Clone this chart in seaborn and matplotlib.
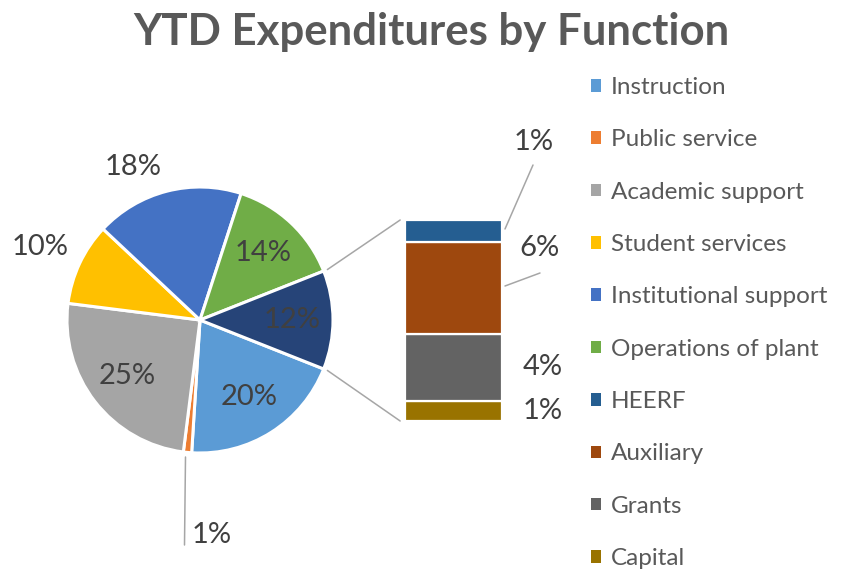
import matplotlib
matplotlib.use("Agg")
import numpy as np
import matplotlib.pyplot as plt
from matplotlib.patches import Patch, ConnectionPatch
import seaborn as sns

# ---- data -------------------------------------------------------------
pie_labels = ["Instruction", "Public service", "Academic support",
              "Student services", "Institutional support", "Operations of plant"]
pie_values = [20, 1, 25, 10, 18, 14]
pie_colors = ["#5B9BD5", "#ED7D31", "#A5A5A5", "#FFC000", "#4472C4", "#70AD47"]
other_color = "#264478"

bar_labels = ["HEERF", "Auxiliary", "Grants", "Capital"]
bar_values = [1.3, 5.5, 4.0, 1.2]
bar_colors = ["#255E91", "#9E480E", "#636363", "#997300"]

title = "YTD Expenditures by Function"

# ---- style ------------------------------------------------------------
sns.set_theme(style="white")
plt.rcParams["font.family"] = ["Lato", "DejaVu Sans"]
LABEL_COLOR = "#404040"
LEGEND_COLOR = "#595959"
LINE_COLOR = "#A6A6A6"

W, H = 845, 574
fig = plt.figure(figsize=(W / 100, H / 100), dpi=100)


def frect(x0, y0, w, h):
    """Axes rectangle from pixel box (top-left origin)."""
    return [x0 / W, 1 - (y0 + h) / H, w / W, h / H]


# overlay in pixel coordinates for labels and leader lines
ov = fig.add_axes([0, 0, 1, 1], zorder=5)
ov.set_xlim(0, W)
ov.set_ylim(H, 0)
ov.axis("off")
ov.patch.set_alpha(0)

# ---- pie --------------------------------------------------------------
other_value = sum(bar_values)
values = pie_values + [other_value]
colors = pie_colors + [other_color]
total = sum(values)
start = -360 * (other_value / total) / 2

cx, cy, r = 200, 320, 133
ax_pie = fig.add_axes(frect(cx - r, cy - r, 2 * r, 2 * r))
wedges, _ = ax_pie.pie(values, colors=colors, startangle=start,
                       counterclock=False, radius=1,
                       wedgeprops=dict(edgecolor="white", linewidth=2.2))
ax_pie.set_xlim(-1, 1)
ax_pie.set_ylim(-1, 1)
ax_pie.set_aspect("equal")

fs_label = 21
# labels placed inside the wedge
inside = {0: 0.69, 2: 0.69, 5: 0.69, 6: 0.69}
for i, w in enumerate(wedges):
    txt = f"{values[i] / total * 100:.0f}%"
    if i in inside:
        ang = np.deg2rad((w.theta1 + w.theta2) / 2)
        d = inside[i]
        ax_pie.text(d * np.cos(ang), d * np.sin(ang), txt, ha="center",
                    va="center", fontsize=fs_label, color=LABEL_COLOR)

# labels placed outside the pie
outside = {1: (212, 535), 3: (40, 247), 4: (133, 167)}
for i, (x, y) in outside.items():
    ov.text(x, y, f"{values[i] / total * 100:.0f}%", ha="center", va="center",
            fontsize=fs_label, color=LABEL_COLOR)
ov.plot([185.5, 184.5], [457, 545], color=LINE_COLOR, lw=1.1)

# ---- bar of the "other" slice -----------------------------------------
bx, by, bw, bh = 405, 220, 97, 201
ax_bar = fig.add_axes(frect(bx, by, bw, bh))
bottom = 0.0
for lab, val, col in zip(bar_labels[::-1], bar_values[::-1], bar_colors[::-1]):
    ax_bar.bar(0, val, bottom=bottom, width=1.0, color=col,
               edgecolor="white", linewidth=1.6)
    bottom += val
ax_bar.set_xlim(-0.5, 0.5)
ax_bar.set_ylim(0, other_value)
ax_bar.axis("off")

# connector lines between slice edges and bar corners
for ang, ycorner in [(np.deg2rad(-start), other_value), (np.deg2rad(start), 0)]:
    con = ConnectionPatch(xyA=(1.03 * np.cos(ang), 1.03 * np.sin(ang)),
                          coordsA=ax_pie.transData,
                          xyB=(-0.55, ycorner), coordsB=ax_bar.transData,
                          color=LINE_COLOR, lw=1.1)
    fig.add_artist(con)

bar_label_pos = [(534, 142), (540, 248), (543, 367), (543, 411)]
for val, (x, y) in zip(bar_values, bar_label_pos):
    ov.text(x, y, f"{val / total * 100:.0f}%", ha="center", va="center",
            fontsize=fs_label, color=LABEL_COLOR)
ov.plot([505, 533], [229, 165], color=LINE_COLOR, lw=1.1)
ov.plot([505, 540], [286, 273], color=LINE_COLOR, lw=1.1)

# ---- title ------------------------------------------------------------
fig.text(431 / W, 1 - 31.5 / H, title, ha="center", va="center",
         fontsize=31.5, fontweight="bold", color="#595959")

# ---- legend -----------------------------------------------------------
handles = [Patch(facecolor=c, edgecolor="none") for c in pie_colors + bar_colors]
names = pie_labels + bar_labels
fig.legend(handles, names, loc="upper left",
           bbox_to_anchor=(591 / W, 1 - 77 / H), frameon=False,
           fontsize=17.5, labelcolor=LEGEND_COLOR, handlelength=0.42,
           handleheight=0.42, handletextpad=0.4, labelspacing=1.29,
           borderpad=0, borderaxespad=0)

fig.savefig("out.png", dpi=100, facecolor="white")
